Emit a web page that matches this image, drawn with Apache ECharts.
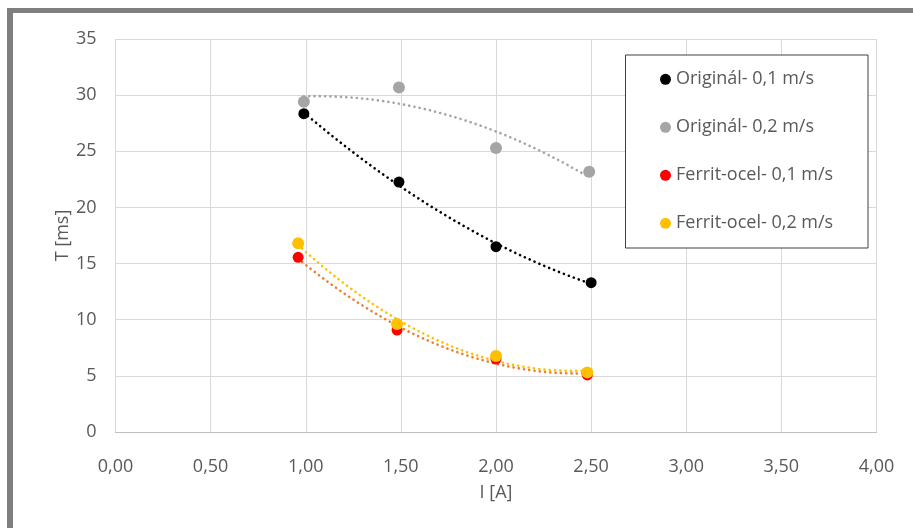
<!DOCTYPE html>
<html>
<head>
<meta charset="utf-8">
<script src="https://cdn.jsdelivr.net/npm/echarts@6/dist/echarts.min.js"></script>
<style>
html,body{margin:0;padding:0;background:#fff;}
#c{width:913px;height:528px;}
</style>
</head>
<body>
<div id="c"></div>
<script>
// Data
const seriesNames = ['Originál- 0,1 m/s', 'Originál- 0,2 m/s', 'Ferrit-ocel- 0,1 m/s', 'Ferrit-ocel- 0,2 m/s'];
const orig01X = [0.99, 1.49, 2.00, 2.50];
const orig01Y = [28.35, 22.26, 16.5, 13.3];
const orig02X = [0.99, 1.49, 2.00, 2.49];
const orig02Y = [29.41, 30.69, 25.3, 23.18];
const ferr01X = [0.96, 1.48, 2.00, 2.48];
const ferr01Y = [15.56, 9.08, 6.5, 5.08];
const ferr02X = [0.96, 1.48, 2.00, 2.48];
const ferr02Y = [16.8, 9.62, 6.77, 5.31];
const xTickLabels = ['0,00', '0,50', '1,00', '1,50', '2,00', '2,50', '3,00', '3,50', '4,00'];
const yTickLabels = ['0', '5', '10', '15', '20', '25', '30', '35'];

const pointColors = ['#000000', '#a5a5a5', '#ff0000', '#ffc000'];
const trendColors = ['#000000', '#a5a5a5', '#ed7d31', '#ffc000'];

// Least-squares polynomial (order 2) trendline, like the spreadsheet's trendline
function quadFit(xs, ys) {
  let n = xs.length, s = [0,0,0,0,0], t = [0,0,0];
  for (let i = 0; i < n; i++) {
    let x = xs[i], y = ys[i];
    for (let k = 0; k <= 4; k++) s[k] += Math.pow(x, k);
    for (let k = 0; k <= 2; k++) t[k] += y * Math.pow(x, k);
  }
  const A = [[s[0], s[1], s[2], t[0]], [s[1], s[2], s[3], t[1]], [s[2], s[3], s[4], t[2]]];
  for (let i = 0; i < 3; i++) {
    for (let j = i + 1; j < 3; j++) {
      const f = A[j][i] / A[i][i];
      for (let k = i; k < 4; k++) A[j][k] -= f * A[i][k];
    }
  }
  const c = [0,0,0];
  for (let i = 2; i >= 0; i--) {
    let v = A[i][3];
    for (let k = i + 1; k < 3; k++) v -= A[i][k] * c[k];
    c[i] = v / A[i][i];
  }
  return c;
}
function trend(xs, ys) {
  const c = quadFit(xs, ys);
  const x0 = Math.min.apply(null, xs), x1 = Math.max.apply(null, xs);
  const out = [];
  const N = 60;
  for (let i = 0; i <= N; i++) {
    const x = x0 + (x1 - x0) * i / N;
    out.push([x, c[0] + c[1] * x + c[2] * x * x]);
  }
  return out;
}
function pairs(xs, ys) { return xs.map((x, i) => [x, ys[i]]); }

const allX = [orig01X, orig02X, ferr01X, ferr02X];
const allY = [orig01Y, orig02Y, ferr01Y, ferr02Y];

const series = [];
for (let i = 0; i < 4; i++) {
  series.push({
    name: seriesNames[i] + ' trend',
    type: 'line',
    data: trend(allX[i], allY[i]),
    showSymbol: false,
    symbol: 'none',
    smooth: false,
    silent: true,
    lineStyle: { color: trendColors[i], width: 2.6, type: [0.1, 5.2], cap: 'round', opacity: 1 },
    z: 2
  });
}
const order = [1, 0, 2, 3];
order.forEach(i => {
  series.push({
    name: seriesNames[i],
    type: 'scatter',
    data: pairs(allX[i], allY[i]),
    symbol: 'circle',
    symbolSize: (i === 1 || i === 3) ? 12 : 11,
    itemStyle: { color: pointColors[i], opacity: 1 },
    z: 3
  });
});

const txt = '#595959';
const font = 'Open Sans';
const chart = echarts.init(document.getElementById('c'), null, { renderer: 'canvas' });
chart.setOption({
  backgroundColor: '#ffffff',
  animation: false,
  grid: { left: 115.5, right: 36.5, top: 39, bottom: 96, containLabel: false },
  xAxis: {
    type: 'value', min: 0, max: 4, interval: 0.5,
    name: 'I [A]', nameLocation: 'middle', nameGap: 52, nameMoveOverlap: false,
    nameTextStyle: { color: txt, fontSize: 18, fontFamily: font },
    axisLine: { show: true, onZero: false, lineStyle: { color: '#bfbfbf', width: 1 } },
    axisTick: { show: false },
    axisLabel: { color: txt, fontSize: 18, fontFamily: font, margin: 26,
      formatter: v => xTickLabels[Math.round(v / 0.5)] },
    splitLine: { show: true, lineStyle: { color: '#d9d9d9', width: 1 } }
  },
  yAxis: {
    type: 'value', min: 0, max: 35, interval: 5,
    name: 'T [ms]', nameLocation: 'middle', nameGap: 44, nameRotate: 90, nameMoveOverlap: false,
    nameTextStyle: { color: txt, fontSize: 18, fontFamily: font },
    axisLine: { show: false },
    axisTick: { show: false },
    axisLabel: { color: txt, fontSize: 18, fontFamily: font, margin: 19,
      formatter: v => yTickLabels[Math.round(v / 5)] },
    splitLine: { show: true, lineStyle: { color: '#d9d9d9', width: 1 } }
  },
  legend: {
    data: seriesNames,
    orient: 'vertical',
    left: 660, top: 69.3,
    icon: 'circle',
    itemWidth: 11, itemHeight: 11,
    itemGap: 28,
    padding: 0,
    z: 10,
    selectedMode: false,
    itemStyle: { opacity: 1 },
    textStyle: { color: txt, fontSize: 18, fontFamily: font, lineHeight: 20 }
  },
  graphic: [
    { type: 'rect', z: 5, shape: { x: 625.5, y: 55, width: 242.5, height: 193 },
      style: { fill: '#ffffff', stroke: '#404040', lineWidth: 1 } },
    { type: 'rect', z: 5, shape: { x: 7, y: 8, width: 6, height: 520 },
      style: { fill: '#7f7f7f' } },
    { type: 'rect', z: 5, shape: { x: 7, y: 8, width: 906, height: 5 },
      style: { fill: '#7f7f7f' } }
  ],
  series: series
});
</script>
</body>
</html>
